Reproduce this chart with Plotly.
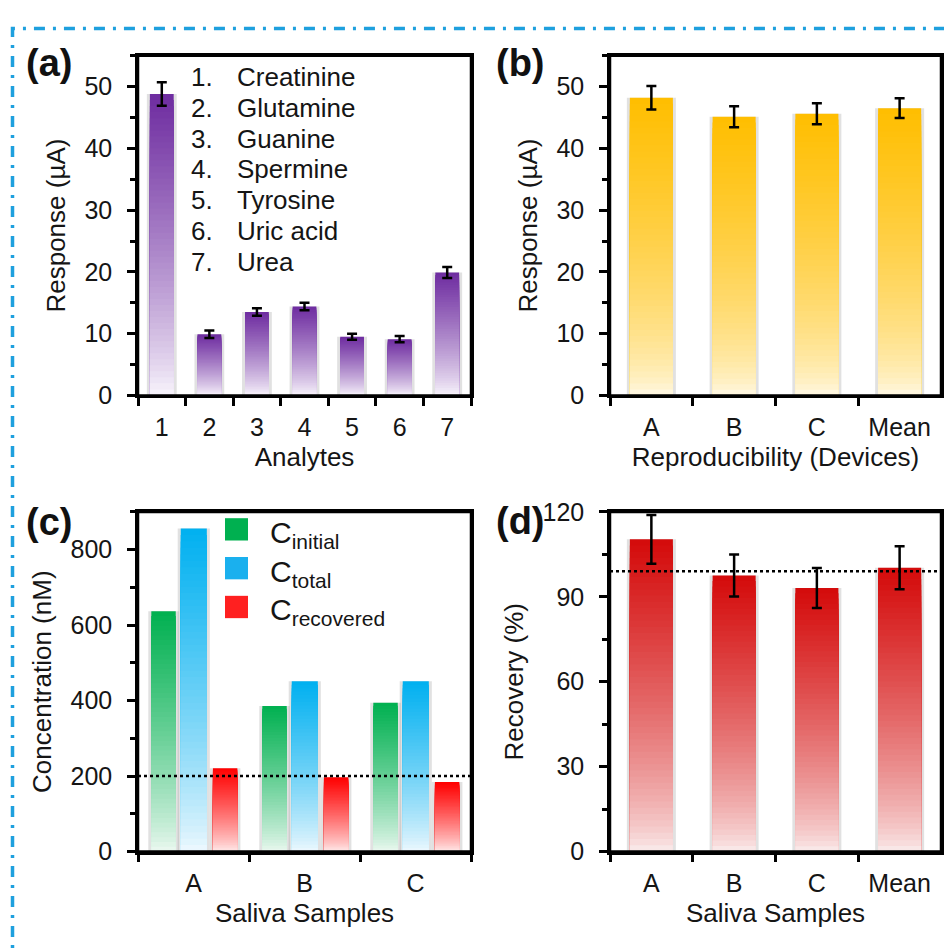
import plotly.graph_objects as go

# ---------------- data ----------------
analytes = ["1", "2", "3", "4", "5", "6", "7"]
analyte_names = ["Creatinine", "Glutamine", "Guanine", "Spermine", "Tyrosine", "Uric acid", "Urea"]
analyte_resp = [48.8, 9.9, 13.5, 14.4, 9.5, 9.1, 19.9]
analyte_err = [1.9, 0.6, 0.6, 0.6, 0.5, 0.5, 0.9]

devices = ["A", "B", "C", "Mean"]
device_resp = [48.2, 45.1, 45.6, 46.5]
device_err = [1.9, 1.7, 1.7, 1.6]

samples = ["A", "B", "C"]
c_initial = [637, 386, 394]
c_total = [856, 451, 451]
c_recovered = [221, 197, 184]
c_reference = 200

rec_samples = ["A", "B", "C", "Mean"]
recovery = [110.3, 97.5, 93.1, 100.3]
recovery_err = [8.6, 7.4, 7.1, 7.6]
rec_reference = 99

# ---------------- helpers ----------------
W, H = 944, 950
FONT = "Liberation Sans, Arial, sans-serif"
N = 50


def px(x):
    return x / W


def py(y):
    return 1 - y / H


def mix(top, bot, t):
    return "rgb(%d,%d,%d)" % tuple(round(b + (a - b) * t) for a, b in zip(top, bot))


fig = go.Figure()


def gradient_bars(x, vals, top, bot, gamma, xa, ya, offset, width, cat_px):
    sh = 3.0 / cat_px
    fig.add_trace(go.Bar(x=x, y=vals, xaxis=xa, yaxis=ya, offset=offset - sh, width=width + 2 * sh,
                         marker=dict(color="rgba(90,90,90,0.18)", line_width=0),
                         hoverinfo="skip", showlegend=False))
    for k in range(N):
        frac = 1 - k / N
        h = frac - 0.5 / N
        t = h ** gamma
        fig.add_trace(go.Bar(x=x, y=[v * frac for v in vals], xaxis=xa, yaxis=ya,
                             offset=offset, width=width,
                             marker=dict(color=mix(top, bot, t), line_width=0),
                             hoverinfo="skip", showlegend=False))


def error_bars(x, vals, err, xa, ya):
    fig.add_trace(go.Scatter(x=x, y=vals, xaxis=xa, yaxis=ya, mode="markers",
                             marker=dict(size=1, opacity=0),
                             error_y=dict(type="data", array=err, color="black", thickness=2.5, width=5),
                             hoverinfo="skip", showlegend=False))


# (a)
gradient_bars(analytes, analyte_resp, (110, 44, 160), (250, 247, 253), 0.8, "x", "y", -0.25, 0.5, 47.5)
error_bars(analytes, analyte_resp, analyte_err, "x", "y")
# (b)
gradient_bars(devices, device_resp, (255, 190, 0), (255, 252, 242), 0.55, "x2", "y2", -0.26, 0.52, 83)
error_bars(devices, device_resp, device_err, "x2", "y2")
# (c)
gradient_bars(samples, c_initial, (0, 176, 80), (238, 249, 242), 0.8, "x3", "y3", -0.38, 0.22, 110)
gradient_bars(samples, c_total, (0, 176, 240), (240, 249, 254), 0.8, "x3", "y3", -0.115, 0.235, 110)
gradient_bars(samples, c_recovered, (255, 0, 0), (255, 238, 238), 0.8, "x3", "y3", 0.175, 0.22, 110)
# centre ticks on (c) x axis
fig.add_trace(go.Scatter(x=samples, y=[0] * len(samples), xaxis="x3", yaxis="y3", mode="markers",
                         marker=dict(size=1, opacity=0), cliponaxis=False,
                         error_y=dict(type="data", symmetric=False, array=[0] * len(samples),
                                      arrayminus=[16] * len(samples), color="black", thickness=2.5, width=0),
                         hoverinfo="skip", showlegend=False))
# (d)
gradient_bars(rec_samples, recovery, (212, 10, 10), (251, 240, 240), 0.7, "x4", "y4", -0.26, 0.52, 83)
error_bars(rec_samples, recovery, recovery_err, "x4", "y4")

# ---------------- axes ----------------
xdom_l = [px(138), px(471)]
xdom_r = [px(610), px(941)]
ydom_t = [py(393), py(43)]
ydom_b = [py(863), py(513)]


def xaxis(domain, cats, title, anchor):
    return dict(domain=domain, type="category", categoryorder="array", categoryarray=cats,
                range=[-0.5, len(cats) - 0.5], tickson="boundaries", ticks="outside", ticklen=8,
                tickwidth=2.5, tickcolor="black", showline=True, linewidth=2.5, linecolor="black",
                mirror=True, showgrid=False, zeroline=False, anchor=anchor, ticklabelstandoff=8,
                tickfont=dict(size=25, color="#151515", family=FONT),
                title=dict(text=title, font=dict(size=26, color="#151515", family=FONT), standoff=8),
                fixedrange=True)


def yaxis(domain, rng, dtick, mdtick, title, anchor):
    return dict(domain=domain, range=rng, tick0=0, dtick=dtick, ticks="outside", ticklen=8,
                tickwidth=2.5, tickcolor="black", showline=True, linewidth=2.5, linecolor="black",
                mirror=True, showgrid=False, zeroline=False, anchor=anchor, ticklabelstandoff=10,
                minor=dict(tick0=0, dtick=mdtick, ticks="outside", ticklen=5, tickwidth=2.5,
                           tickcolor="black", showgrid=False),
                tickfont=dict(size=25, color="#151515", family=FONT),
                title=dict(text=title, font=dict(size=26, color="#151515", family=FONT), standoff=12),
                fixedrange=True)


annotations = []
shapes = []

# plot frames
for xa, ya in [("x", "y"), ("x2", "y2"), ("x3", "y3"), ("x4", "y4")]:
    shapes.append(dict(type="rect", xref=xa + " domain", yref=ya + " domain", x0=0, x1=1, y0=0, y1=1,
                       line=dict(color="black", width=2.5), layer="above"))

# panel labels
for lab, (x, y) in zip(["(a)", "(b)", "(c)", "(d)"], [(49, 50), (520, 50), (49, 523), (520, 522)]):
    annotations.append(dict(text="<b>%s</b>" % lab, x=px(x), y=py(y), xref="paper", yref="paper",
                            showarrow=False, xanchor="center", yanchor="middle",
                            font=dict(size=38, color="#111", family=FONT)))

# analyte list in (a)
for i, name in enumerate(analyte_names):
    yy = py(65 + i * 31.7)
    annotations.append(dict(text="%d." % (i + 1), x=px(189), y=yy, xref="paper", yref="paper",
                            showarrow=False, xanchor="left", yanchor="middle",
                            font=dict(size=26, color="#151515", family=FONT)))
    annotations.append(dict(text=name, x=px(235), y=yy, xref="paper", yref="paper",
                            showarrow=False, xanchor="left", yanchor="middle",
                            font=dict(size=26, color="#151515", family=FONT)))

# legend in (c)
legend_items = [("initial", "#00B050"), ("total", "#1AB0EE"), ("recovered", "#FF2020")]
for i, (sub, col) in enumerate(legend_items):
    cy = 531 + i * 40
    shapes.append(dict(type="rect", xref="paper", yref="paper", x0=px(225), x1=px(248),
                       y0=py(cy + 11.5), y1=py(cy - 11.5), fillcolor=col, line=dict(width=0)))
    annotations.append(dict(text="C<sub>%s</sub>" % sub, x=px(268), y=py(cy + 5), xref="paper",
                            yref="paper", showarrow=False, xanchor="left", yanchor="middle",
                            font=dict(size=30, color="#151515", family=FONT)))

# reference dotted lines
shapes.append(dict(type="line", xref="x3 domain", yref="y3", x0=0, x1=1, y0=c_reference, y1=c_reference,
                   line=dict(color="black", width=2.5, dash="dot")))
shapes.append(dict(type="line", xref="x4 domain", yref="y4", x0=0, x1=1, y0=rec_reference, y1=rec_reference,
                   line=dict(color="black", width=2.5, dash="dot")))

# dash-dot border
shapes.append(dict(type="rect", xref="paper", yref="paper", x0=px(12.5), x1=1.2, y0=-0.2, y1=py(15),
                   line=dict(color="rgb(30,160,222)", width=3.5, dash="11px,8px,3px,8px"), layer="above"))

fig.update_layout(
    width=W, height=H, margin=dict(l=0, r=0, t=0, b=0),
    paper_bgcolor="white", plot_bgcolor="white",
    barmode="overlay", showlegend=False,
    font=dict(family=FONT, color="#151515"),
    xaxis=xaxis(xdom_l, analytes, "Analytes", "y"),
    yaxis=yaxis(ydom_t, [0, 55], 10, 5, "Response (µA)", "x"),
    xaxis2=xaxis(xdom_r, devices, "Reproducibility (Devices)", "y2"),
    yaxis2=yaxis(ydom_t, [0, 55], 10, 5, "Response (µA)", "x2"),
    xaxis3=xaxis(xdom_l, samples, "Saliva Samples", "y3"),
    yaxis3=yaxis(ydom_b, [0, 900], 200, 100, "Concentration (nM)", "x3"),
    xaxis4=xaxis(xdom_r, rec_samples, "Saliva Samples", "y4"),
    yaxis4=yaxis(ydom_b, [0, 120], 30, 15, "Recovery (%)", "x4"),
    annotations=annotations, shapes=shapes,
)

fig.write_html("out.html", config={"displayModeBar": False},
               post_script="document.body.style.margin='0';document.body.style.overflow='hidden';")
